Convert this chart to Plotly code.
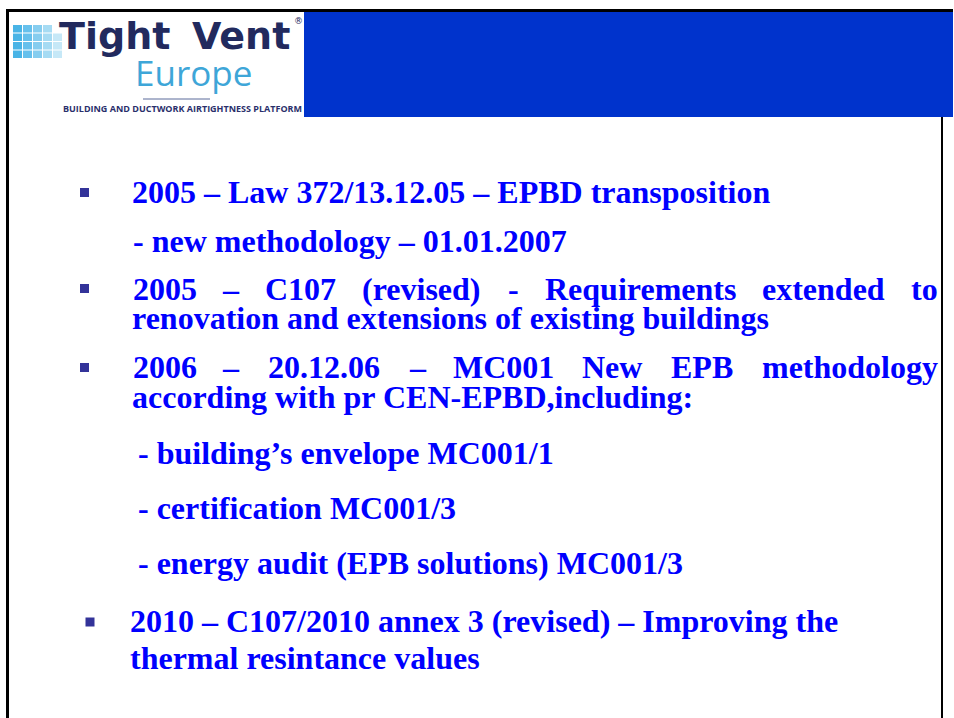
import plotly.graph_objects as go

# ---- slide content (text) ----
line1 = "2005 – Law 372/13.12.05 – EPBD transposition"
line2 = "- new methodology – 01.01.2007"
line3_words = ["2005", "–", "C107", "(revised)", "-", "Requirements", "extended", "to"]
line4 = "renovation and extensions of existing buildings"
line5_words = ["2006", "–", "20.12.06", "–", "MC001", "New", "EPB", "methodology"]
line6 = "according with pr CEN-EPBD,including:"
sub_items = ["- building’s envelope MC001/1", "- certification MC001/3",
             "- energy audit (EPB solutions) MC001/3"]
line10 = "2010 – C107/2010 annex 3 (revised) – Improving the"
line11 = "thermal resintance values"

logo_word1 = "Tight"
logo_word2 = "Vent"
logo_sub = "Europe"
logo_tag = "BUILDING AND DUCTWORK AIRTIGHTNESS PLATFORM"

# ---- layout / style ----
W, H = 954, 718
BLUE_TXT = "#0000ff"
SERIF = "Liberation Serif"
FS = 32

fig = go.Figure()
fig.update_layout(
    width=W, height=H, margin=dict(l=0, r=0, t=0, b=0),
    paper_bgcolor="white", plot_bgcolor="white", showlegend=False,
    xaxis=dict(range=[0, W], visible=False, fixedrange=True),
    yaxis=dict(range=[H, 0], visible=False, fixedrange=True),
)

shapes = []
# frame lines
shapes.append(dict(type="rect", xref="x", yref="y", x0=6, x1=953, y0=9, y1=12,
                   fillcolor="black", line=dict(width=0)))
shapes.append(dict(type="rect", xref="x", yref="y", x0=6, x1=9, y0=9, y1=H,
                   fillcolor="black", line=dict(width=0)))
shapes.append(dict(type="rect", xref="x", yref="y", x0=941, x1=943, y0=117, y1=H,
                   fillcolor="black", line=dict(width=0)))
# blue header
shapes.append(dict(type="rect", xref="x", yref="y", x0=304, x1=953, y0=12, y1=117,
                   fillcolor="#0033cc", line=dict(width=0)))

# logo squares grid
grid_cols = [13, 23, 33, 43, 53]
grid_rows = [25, 33.5, 42, 50.5]
col_colors = ["#49b4e6", "#66c0ec", "#86cdef", "#a6dbf3", "#c6e8f7"]
for ri, ry in enumerate(grid_rows):
    for ci, cx in enumerate(grid_cols):
        if ri == 0 and ci == 4:
            continue
        shapes.append(dict(type="rect", xref="x", yref="y", x0=cx, x1=cx + 9,
                           y0=ry, y1=ry + 7.5, fillcolor=col_colors[ci],
                           line=dict(width=0)))
# underline under Europe
shapes.append(dict(type="line", xref="x", yref="y", x0=143, x1=210, y0=99, y1=99,
                   line=dict(color="#5a6a9a", width=1)))

# bullets
bullet_pos = [(84.5, 192.5), (84.5, 288.5), (84.5, 367.5), (90, 622)]
for bx, by in bullet_pos:
    shapes.append(dict(type="rect", xref="x", yref="y", x0=bx - 4.5, x1=bx + 4.5,
                       y0=by - 4.5, y1=by + 4.5, fillcolor="#333399",
                       line=dict(width=0)))

fig.update_layout(shapes=shapes)

ann = []


def txt(s, x, y, size=FS, xanchor="left", family=SERIF, color=BLUE_TXT,
        weight="bold"):
    ann.append(dict(text=s, x=x, y=y, xref="x", yref="y", showarrow=False,
                    xanchor=xanchor, yanchor="middle", borderpad=0,
                    font=dict(family=family, size=size, color=color, weight=weight)))


# logo text
txt(logo_word1, 58, 36, size=38, family="DejaVu Sans", color="#222a5e")
txt(logo_word2, 191, 36, size=38, family="DejaVu Sans", color="#222a5e")
txt("®", 293, 21, size=9, family="DejaVu Sans", color="#222a5e", weight="normal")
txt(logo_sub, 134, 72, size=35, family="Open Sans", color="#3ea6d8", weight="normal")
txt(logo_tag, 182, 108, size=9, xanchor="center", family="Open Sans", color="#2a2f6b")

# body text
txt(line1, 131, 192)
txt(line2, 132, 241)
line3_centers = [165, 231, 300, 421, 513, 640, 823, 924]
for w, cx in zip(line3_words, line3_centers):
    txt(w, cx, 289, xanchor="center")
txt(line4, 131, 318)
line5_centers = [165, 231, 324, 418, 503, 612, 702, 850]
for w, cx in zip(line5_words, line5_centers):
    txt(w, cx, 367, xanchor="center")
txt(line6, 131, 397)
for s, y in zip(sub_items, [453, 508, 563]):
    txt(s, 137, y)
txt(line10, 129, 621)
txt(line11, 129, 658)

fig.update_layout(annotations=ann)
fig.write_html("out.html", config={"displayModeBar": False},
               post_script="document.body.style.margin='0';")
